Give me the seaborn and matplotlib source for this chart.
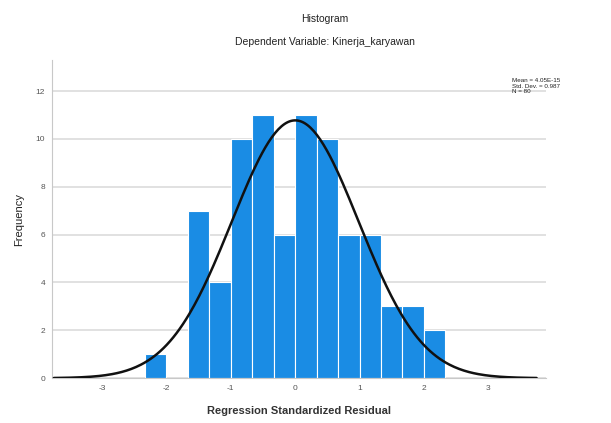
import numpy as np
import pandas as pd
import matplotlib.pyplot as plt
import seaborn as sns

# histogram of standardized residuals (SPSS style)
bin_left = [-7/3, -2, -5/3, -4/3, -1, -2/3, -1/3, 0, 1/3, 2/3, 1, 4/3, 5/3, 2]
counts = [1, 0, 7, 4, 10, 11, 6, 11, 10, 6, 6, 3, 3, 2]
bin_width = 1/3
mean_val = 4.05e-15
std_val = 0.987
n_obs = 80
x_ticks = [-3, -2, -1, 0, 1, 2, 3]
y_ticks = [0, 2, 4, 6, 8, 10, 12]

sns.set_style("white")
plt.rcParams['font.family'] = ['Liberation Sans', 'DejaVu Sans']
plt.rcParams['axes.unicode_minus'] = False

df = pd.DataFrame({'resid': np.array(bin_left) + bin_width / 2, 'freq': counts})
edges = list(bin_left) + [bin_left[-1] + bin_width]

fig = plt.figure(figsize=(6.11, 4.23), dpi=100)
ax = fig.add_axes([0.085, 0.106, 0.809, 0.752])

ax.grid(axis='y', color='#dcdcdc', linewidth=1.2, zorder=0)
ax.set_axisbelow(True)
sns.histplot(data=df, x='resid', weights='freq', bins=edges, color='#1a8ce4',
             edgecolor='white', linewidth=0.8, alpha=1, ax=ax, zorder=2)

# normal curve
xs = np.linspace(-3.75, 3.75, 300)
ys = n_obs * bin_width * np.exp(-0.5 * ((xs - mean_val) / std_val) ** 2) / (std_val * np.sqrt(2 * np.pi))
sns.lineplot(x=xs, y=ys, color='#111111', linewidth=1.8, ax=ax, zorder=3)

ax.set_xlim(-3.78, 3.9)
ax.set_ylim(0, 13.3)
ax.set_xticks(x_ticks)
ax.set_yticks(y_ticks)
ax.tick_params(labelsize=6, colors='#555555', length=0, pad=5)
for s in ['top', 'right']:
    ax.spines[s].set_visible(False)
for s in ['left', 'bottom']:
    ax.spines[s].set_color('#c8c8c8')
ax.set_xlabel('Regression Standardized Residual', fontsize=8, fontweight='bold',
              labelpad=10, color='#333333')
ax.set_ylabel('Frequency', fontsize=8, labelpad=8, color='#222222')

fig.text(0.532, 0.955, 'Histogram', ha='center', va='center', fontsize=7.5, color='#222222')
fig.text(0.532, 0.9, 'Dependent Variable: Kinerja_karyawan', ha='center', va='center',
         fontsize=7.5, color='#222222')
fig.text(0.838, 0.815, f'Mean = {mean_val:.2E}\nStd. Dev. = {std_val}\nN = {n_obs}',
         ha='left', va='top', fontsize=4.5, linespacing=1.1, color='#222222')

fig.savefig('out.png', dpi=100)
